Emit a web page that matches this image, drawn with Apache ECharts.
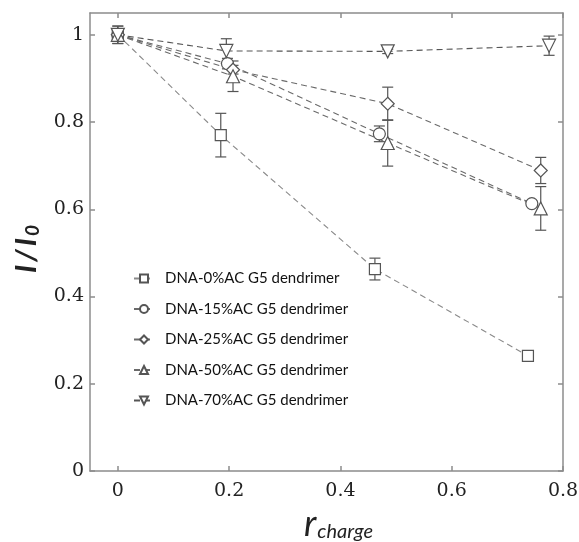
<!DOCTYPE html>
<html>
<head>
<meta charset="utf-8">
<script src="https://cdn.jsdelivr.net/npm/echarts@6/dist/echarts.min.js"></script>
<style>
  html, body { margin: 0; padding: 0; background: #fff; }
  #chart { width: 579px; height: 542px; }
</style>
</head>
<body>
<div id="chart"></div>
<script>
// Quenching ratio I/I0 versus charge ratio for each dendrimer acetylation level
const seriesNames = [
  'DNA-0%AC G5 dendrimer',
  'DNA-15%AC G5 dendrimer',
  'DNA-25%AC G5 dendrimer',
  'DNA-50%AC G5 dendrimer',
  'DNA-70%AC G5 dendrimer'
];

const x0 = [0, 0.185, 0.462, 0.737];
const y0 = [1.0, 0.770, 0.463, 0.264];
const e0 = [0.02, 0.05, 0.025, 0.008];

const x15 = [0, 0.197, 0.470, 0.744];
const y15 = [1.0, 0.934, 0.773, 0.613];
const e15 = [0.01, 0.012, 0.018, 0.006];

const x25 = [0, 0.207, 0.485, 0.760];
const y25 = [1.0, 0.920, 0.842, 0.689];
const e25 = [0.01, 0.01, 0.038, 0.03];

const x50 = [0, 0.207, 0.485, 0.760];
const y50 = [1.0, 0.905, 0.752, 0.602];
const e50 = [0.01, 0.035, 0.053, 0.05];

const x70 = [0, 0.195, 0.485, 0.775];
const y70 = [1.0, 0.963, 0.962, 0.975];
const e70 = [0.02, 0.028, 0.005, 0.022];

const xTicks = [0, 0.2, 0.4, 0.6, 0.8];
const yTicks = [0, 0.2, 0.4, 0.6, 0.8, 1];

const groups = [
  { x: x0, y: y0, e: e0, symbol: 'rect', rotate: 0, size: 11 },
  { x: x15, y: y15, e: e15, symbol: 'circle', rotate: 0, size: 12 },
  { x: x25, y: y25, e: e25, symbol: 'diamond', rotate: 0, size: 13 },
  { x: x50, y: y50, e: e50, symbol: 'triangle', rotate: 0, size: 13 },
  { x: x70, y: y70, e: e70, symbol: 'triangle', rotate: 180, size: 13 }
];

const lineColors = ['#8a8a8a', '#6a6a6a', '#6a6a6a', '#6a6a6a', '#555555'];
const markColor = '#555555';

const chart = echarts.init(document.getElementById('chart'), null, { renderer: 'canvas' });

const series = [];
groups.forEach(function (g, i) {
  const pts = g.x.map(function (v, k) { return [v, g.y[k], g.e[k]]; });
  // error bars with caps
  series.push({
    name: seriesNames[i] + ' err',
    type: 'custom',
    z: 1,
    silent: true,
    data: pts,
    renderItem: function (params, api) {
      const xv = api.value(0), yv = api.value(1), ev = api.value(2);
      const top = api.coord([xv, yv + ev]);
      const bot = api.coord([xv, yv - ev]);
      const cap = 5.5;
      const st = { stroke: markColor, lineWidth: 1.2 };
      return {
        type: 'group',
        children: [
          { type: 'line', shape: { x1: top[0], y1: top[1], x2: bot[0], y2: bot[1] }, style: st },
          { type: 'line', shape: { x1: top[0] - cap, y1: top[1], x2: top[0] + cap, y2: top[1] }, style: st },
          { type: 'line', shape: { x1: bot[0] - cap, y1: bot[1], x2: bot[0] + cap, y2: bot[1] }, style: st }
        ]
      };
    }
  });
  series.push({
    name: seriesNames[i],
    type: 'line',
    z: 3,
    data: pts.map(function (p) { return [p[0], p[1]]; }),
    symbol: g.symbol,
    symbolRotate: g.rotate,
    symbolSize: g.size,
    showAllSymbol: true,
    lineStyle: { color: lineColors[i], width: 1.1, type: [6, 4] },
    itemStyle: { color: '#ffffff', borderColor: markColor, borderWidth: 1.2 },
    emphasis: { disabled: true },
    animation: false
  });
});

const axisLineStyle = { color: '#8c8c8c', width: 1.5 };

chart.setOption({
  backgroundColor: '#ffffff',
  animation: false,
  grid: { left: 90, right: 16, top: 13, bottom: 71, containLabel: false, outerBoundsMode: 'none' },
  legend: {
    data: seriesNames,
    orient: 'vertical',
    left: 128,
    top: 266,
    itemWidth: 20,
    itemHeight: 10,
    itemGap: 15.5,
    textStyle: { fontFamily: 'Lato', fontSize: 15, color: '#111', padding: [0, 0, 0, 6] },
    selectedMode: false
  },
  xAxis: [
    {
      type: 'value',
      min: -0.05,
      max: 0.8,
      interval: 0.2,
      position: 'bottom',
      axisLine: { onZero: false, lineStyle: axisLineStyle },
      axisTick: { inside: true, length: 5, lineStyle: axisLineStyle, customValues: xTicks },
      axisLabel: { customValues: xTicks, fontFamily: 'DejaVu Serif', fontSize: 19, color: '#222', margin: 11,
        formatter: function (v) { return String(v); } },
      splitLine: { show: false },
      name: '{r|r}{s|charge}',
      nameLocation: 'middle',
      nameGap: 28,
      nameTextStyle: {
        padding: [0, 0, 0, 24],
        rich: {
          r: { fontFamily: 'Lato', fontStyle: 'italic', fontSize: 36, color: '#222', lineHeight: 38 },
          s: { fontFamily: 'Lato', fontStyle: 'italic', fontSize: 20, color: '#222', lineHeight: 38, padding: [15, 0, 0, 1] }
        }
      }
    },
    {
      type: 'value',
      min: -0.05,
      max: 0.8,
      position: 'top',
      axisLine: { onZero: false, lineStyle: axisLineStyle },
      axisTick: { inside: true, length: 5, lineStyle: axisLineStyle, customValues: xTicks },
      axisLabel: { show: false },
      splitLine: { show: false }
    }
  ],
  yAxis: [
    {
      type: 'value',
      min: 0,
      max: 1.05,
      interval: 0.2,
      position: 'left',
      axisLine: { onZero: false, lineStyle: axisLineStyle },
      axisTick: { inside: true, length: 5, lineStyle: axisLineStyle, customValues: yTicks },
      axisLabel: { customValues: yTicks, fontFamily: 'DejaVu Serif', fontSize: 19, color: '#222', margin: 6,
        formatter: function (v) { return String(v); } },
      splitLine: { show: false },
      name: '{a|I}{g|/}{a|I}{b|0}',
      nameLocation: 'middle',
      nameGap: 47,
      nameTextStyle: {
        padding: [0, 14, 0, 0],
        rich: {
          a: { fontFamily: 'Lato', fontStyle: 'italic', fontWeight: 'bold', fontSize: 29, color: '#222', lineHeight: 32 },
          g: { fontFamily: 'Lato', fontStyle: 'italic', fontWeight: 'bold', fontSize: 29, color: '#222', lineHeight: 32, padding: [0, 3, 0, 3] },
          b: { fontFamily: 'Lato', fontStyle: 'italic', fontWeight: 'bold', fontSize: 19, color: '#222', lineHeight: 32, padding: [12, 0, 0, 2] }
        }
      }
    },
    {
      type: 'value',
      min: 0,
      max: 1.05,
      position: 'right',
      axisLine: { onZero: false, lineStyle: axisLineStyle },
      axisTick: { inside: true, length: 5, lineStyle: axisLineStyle, customValues: yTicks },
      axisLabel: { show: false },
      splitLine: { show: false }
    }
  ],
  series: series
});
</script>
</body>
</html>
